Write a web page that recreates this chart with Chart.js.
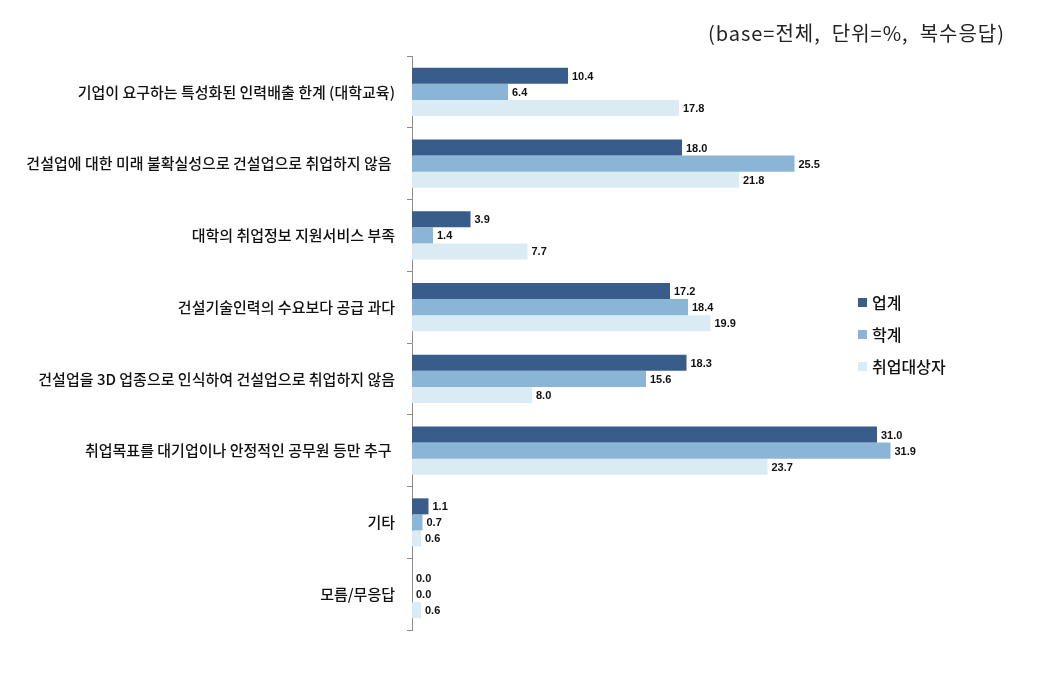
<!DOCTYPE html>
<html>
<head>
<meta charset="utf-8">
<script src="https://cdn.jsdelivr.net/npm/chart.js@4"></script>
<style>
    body { margin: 0; background: #fff; font-family: "Noto Sans CJK KR", sans-serif; }
    #wrap { position: relative; width: 1047px; height: 673px; }
    #note { position: absolute; right: 42px; top: 18px; font-size: 20px; letter-spacing: 1px; color: #222; white-space: pre; }
    #legend { position: absolute; left: 858px; top: 286px; font-size: 16px; font-weight: 500; color: #111; }
    #legend div { height: 32px; display: flex; align-items: center; }
    #legend span.box { width: 9px; height: 9px; margin-right: 5px; display: inline-block; }
</style>
</head>
<body>
<div id="wrap">
    <canvas id="chart" width="1047" height="673"></canvas>
    <div id="note">(base=전체,  단위=%,  복수응답)</div>
    <div id="legend"></div>
</div>
<script>
// categories and values
const categories = [
    '기업이 요구하는 특성화된 인력배출 한계 (대학교육)',
    '건설업에 대한 미래 불확실성으로 건설업으로 취업하지 않음 ',
    '대학의 취업정보 지원서비스 부족',
    '건설기술인력의 수요보다 공급 과다',
    '건설업을 3D 업종으로 인식하여 건설업으로 취업하지 않음',
    '취업목표를 대기업이나 안정적인 공무원 등만 추구 ',
    '기타',
    '모름/무응답'
];
const seriesNames = ['업계', '학계', '취업대상자'];
const industry = [10.4, 18.0, 3.9, 17.2, 18.3, 31.0, 1.1, 0.0];
const academia = [6.4, 25.5, 1.4, 18.4, 15.6, 31.9, 0.7, 0.0];
const jobSeekers = [17.8, 21.8, 7.7, 19.9, 8.0, 23.7, 0.6, 0.6];
const colors = ['#385D8A', '#8BB5D7', '#DAEBF3'];

// value labels at the end of each bar
const valueLabels = {
    id: 'valueLabels',
    afterDatasetsDraw(chart) {
        const ctx = chart.ctx;
        ctx.save();
        ctx.font = 'bold 11px "Liberation Sans", sans-serif';
        ctx.fillStyle = '#111';
        ctx.textBaseline = 'middle';
        chart.data.datasets.forEach((ds, i) => {
            chart.getDatasetMeta(i).data.forEach((bar, j) => {
                ctx.fillText(ds.data[j].toFixed(1), bar.x + 4, bar.y + 1);
            });
        });
        ctx.restore();
    }
};

const data = [industry, academia, jobSeekers];
new Chart(document.getElementById('chart'), {
    type: 'bar',
    data: {
        labels: categories,
        datasets: seriesNames.map((name, i) => ({
            label: name,
            data: data[i],
            backgroundColor: colors[i],
            categoryPercentage: 0.67,
            barPercentage: 1.0
        }))
    },
    options: {
        indexAxis: 'y',
        responsive: false,
        animation: false,
        layout: { padding: { left: 0, right: 35, top: 56, bottom: 43 } },
        plugins: {
            legend: { display: false },
            tooltip: { enabled: false }
        },
        scales: {
            x: {
                display: false,
                min: 0,
                max: 40
            },
            y: {
                afterFit(scale) { scale.width = 412; },
                border: { color: '#8c8c8c', width: 1 },
                grid: {
                    drawOnChartArea: false,
                    tickLength: 5,
                    color: '#8c8c8c'
                },
                ticks: {
                    color: '#111',
                    padding: 12,
                    font: { family: '"Noto Sans CJK KR", sans-serif', size: 15, weight: 500 }
                }
            }
        }
    },
    plugins: [valueLabels]
});

// legend
const legend = document.getElementById('legend');
seriesNames.forEach((name, i) => {
    const row = document.createElement('div');
    row.innerHTML = '<span class="box" style="background:' + colors[i] + '"></span>' + name;
    legend.appendChild(row);
});
</script>
</body>
</html>
